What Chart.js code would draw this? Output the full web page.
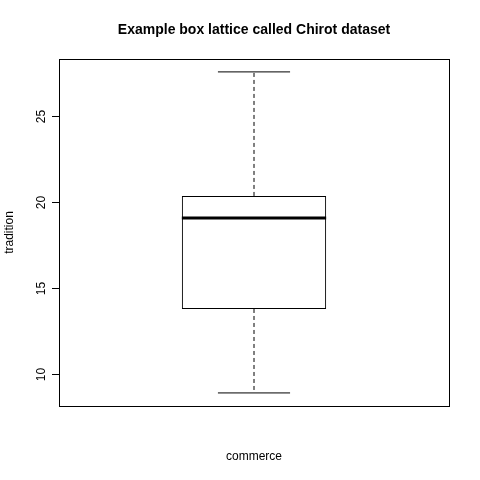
<!DOCTYPE html>
<html>
<head>
<script src="https://cdn.jsdelivr.net/npm/chart.js@4"></script>
<style>body{margin:0;background:#fff}</style>
</head>
<body>
<canvas id="box" width="480" height="480"></canvas>
<script>
// box statistics
var categories = ['commerce'];
var lowWhisker = [8.9];
var q1 = [13.78];
var median = [19.07];
var q3 = [20.35];
var highWhisker = [27.56];
var yTicks = [10, 15, 20, 25];

var boxPlugin = {
    id: 'boxPlugin',
    afterDatasetsDraw: function (chart) {
        var ctx = chart.ctx, a = chart.chartArea;
        var y = chart.scales.y, x = chart.scales.x;
        var meta = chart.getDatasetMeta(0);
        ctx.save();
        ctx.strokeStyle = '#000';
        ctx.fillStyle = '#000';
        for (var i = 0; i < categories.length; i++) {
            var bar = meta.data[i];
            var cx = x.getPixelForValue(i);
            var half = bar.width / 2, cap = half / 2;
            // median
            ctx.lineWidth = 3;
            ctx.beginPath();
            ctx.moveTo(cx - half, y.getPixelForValue(median[i]));
            ctx.lineTo(cx + half, y.getPixelForValue(median[i]));
            ctx.stroke();
            // whiskers
            ctx.lineWidth = 1;
            ctx.setLineDash([4, 3]);
            ctx.beginPath();
            ctx.moveTo(cx, y.getPixelForValue(q3[i]));
            ctx.lineTo(cx, y.getPixelForValue(highWhisker[i]));
            ctx.moveTo(cx, y.getPixelForValue(q1[i]));
            ctx.lineTo(cx, y.getPixelForValue(lowWhisker[i]));
            ctx.stroke();
            ctx.setLineDash([]);
            ctx.beginPath();
            ctx.moveTo(cx - cap, y.getPixelForValue(highWhisker[i]));
            ctx.lineTo(cx + cap, y.getPixelForValue(highWhisker[i]));
            ctx.moveTo(cx - cap, y.getPixelForValue(lowWhisker[i]));
            ctx.lineTo(cx + cap, y.getPixelForValue(lowWhisker[i]));
            ctx.stroke();
        }
        // frame
        ctx.strokeRect(a.left + 0.5, a.top + 0.5, a.right - a.left, a.bottom - a.top);
        // y ticks with rotated labels
        ctx.font = '12px "Liberation Sans", Arial, sans-serif';
        ctx.textAlign = 'center';
        ctx.textBaseline = 'bottom';
        yTicks.forEach(function (t) {
            var py = Math.round(y.getPixelForValue(t)) + 0.5;
            ctx.beginPath();
            ctx.moveTo(a.left, py);
            ctx.lineTo(a.left - 7, py);
            ctx.stroke();
            ctx.save();
            ctx.translate(a.left - 11, py);
            ctx.rotate(-Math.PI / 2);
            ctx.fillText(String(t), 0, 0);
            ctx.restore();
        });
        // axis titles
        ctx.textBaseline = 'middle';
        ctx.fillText(categories[0], (a.left + a.right) / 2, 457);
        ctx.save();
        ctx.translate(10, (a.top + a.bottom) / 2);
        ctx.rotate(-Math.PI / 2);
        ctx.fillText('tradition', 0, 0);
        ctx.restore();
        ctx.font = 'bold 14px "Liberation Sans", Arial, sans-serif';
        ctx.fillText('Example box lattice called Chirot dataset', 254, 30);
        ctx.restore();
    }
};

new Chart(document.getElementById('box'), {
    type: 'bar',
    data: {
        labels: categories,
        datasets: [{
            data: categories.map(function (c, i) { return [q1[i], q3[i]]; }),
            backgroundColor: 'rgba(0,0,0,0)',
            borderColor: '#000',
            borderWidth: 1,
            borderSkipped: false,
            barPercentage: 0.37,
            categoryPercentage: 1
        }]
    },
    options: {
        responsive: false,
        animation: false,
        layout: { padding: { left: 59, right: 31, top: 59, bottom: 74 } },
        plugins: { legend: { display: false }, tooltip: { enabled: false } },
        scales: {
            x: { display: false },
            y: { display: false, min: 8.14, max: 28.31 }
        }
    },
    plugins: [boxPlugin]
});
</script>
</body>
</html>
